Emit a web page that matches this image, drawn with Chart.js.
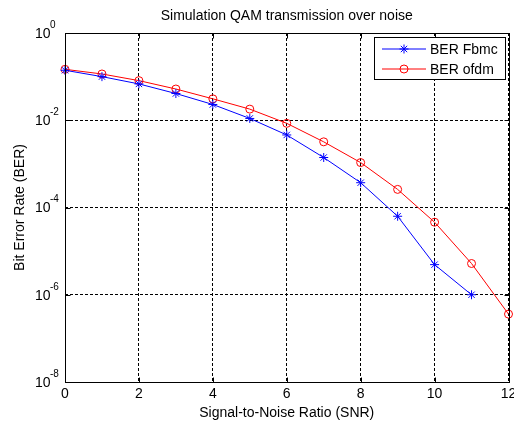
<!DOCTYPE html>
<html>
<head>
<meta charset="utf-8">
<script src="https://cdn.jsdelivr.net/npm/chart.js@4.4.0/dist/chart.umd.min.js"></script>
<style>
html, body { margin: 0; padding: 0; background: #fff; }
canvas { display: block; }
</style>
</head>
<body>
<canvas id="ber-chart" width="514" height="421"></canvas>
<script>
// values
const snrFbmc = [0, 1, 2, 3, 4, 5, 6, 7, 8, 9, 10, 11];
const berFbmc = [0.14, 0.10, 0.068, 0.041, 0.023, 0.011, 0.0046, 0.0014, 3.7e-4, 6.3e-5, 4.9e-6, 1.0e-6];
const snrOfdm = [0, 1, 2, 3, 4, 5, 6, 7, 8, 9, 10, 11, 12];
const berOfdm = [0.147, 0.115, 0.081, 0.052, 0.031, 0.018, 0.0085, 0.0032, 0.00107, 2.6e-4, 4.6e-5, 5.2e-6, 3.6e-7];
const xTicks = [0, 2, 4, 6, 8, 10, 12];
const yTickExponents = [0, -2, -4, -6, -8];
const titleText = 'Simulation QAM transmission over noise';
const xTitle = 'Signal-to-Noise Ratio (SNR)';
const yTitle = 'Bit Error Rate (BER)';

const FONT = '"Liberation Sans", Arial, sans-serif';
Chart.defaults.font.family = FONT;

const toPoints = (xs, ys) => xs.map((x, i) => ({ x: x, y: ys[i] }));

// MATLAB-style decorations: box, tick marks, tick labels with exponents, titles, legend
const matlabFrame = {
    id: 'matlabFrame',
    afterDraw(chart) {
        const { ctx, chartArea: a, scales } = chart;
        const xs = scales.x, ys = scales.y;
        const L = Math.round(a.left) + 0.5, R = Math.round(a.right) + 0.5;
        const T = Math.round(a.top) + 0.5, B = Math.round(a.bottom) + 0.5;
        const tick = 5;
        ctx.save();

        ctx.strokeStyle = '#000';
        ctx.lineWidth = 1;
        ctx.setLineDash([]);
        ctx.strokeRect(L, T, R - L, B - T);

        // inward tick marks on all four sides
        ctx.beginPath();
        xTicks.forEach(v => {
            const x = Math.round(xs.getPixelForValue(v)) + 0.5;
            ctx.moveTo(x, B); ctx.lineTo(x, B - tick);
            ctx.moveTo(x, T); ctx.lineTo(x, T + tick);
        });
        yTickExponents.forEach(e => {
            const y = Math.round(ys.getPixelForValue(Math.pow(10, e))) + 0.5;
            ctx.moveTo(L, y); ctx.lineTo(L + tick, y);
            ctx.moveTo(R, y); ctx.lineTo(R - tick, y);
        });
        ctx.stroke();

        ctx.fillStyle = '#000';
        ctx.textAlign = 'left';
        ctx.textBaseline = 'middle';
        yTickExponents.forEach(e => {
            const y = ys.getPixelForValue(Math.pow(10, e));
            ctx.font = '14px ' + FONT;
            ctx.fillText('10', 35, y + 1);
            ctx.font = '10px ' + FONT;
            ctx.fillText(String(e), 50, y - 8);
        });

        ctx.font = '14px ' + FONT;
        ctx.textAlign = 'center';
        xTicks.forEach(v => {
            ctx.fillText(String(v), xs.getPixelForValue(v), a.bottom + 12);
        });

        ctx.fillText(xTitle, (a.left + a.right) / 2, a.bottom + 31);
        ctx.fillText(titleText, (a.left + a.right) / 2, 16);

        ctx.save();
        ctx.translate(20, (a.top + a.bottom) / 2);
        ctx.rotate(-Math.PI / 2);
        ctx.fillText(yTitle, 0, 0);
        ctx.restore();

        // legend box
        const lx = 374, ly = 37, lw = 131, lh = 42;
        ctx.fillStyle = '#fff';
        ctx.fillRect(lx, ly, lw, lh);
        ctx.strokeStyle = '#000';
        ctx.strokeRect(lx + 0.5, ly + 0.5, lw, lh);
        ctx.textAlign = 'left';
        chart.data.datasets.forEach((ds, i) => {
            const ry = ly + 12 + i * 20;
            ctx.strokeStyle = ds.borderColor;
            ctx.lineWidth = 1;
            ctx.beginPath();
            ctx.moveTo(lx + 8, ry);
            ctx.lineTo(lx + 52, ry);
            ctx.stroke();
            ctx.fillStyle = 'rgba(0,0,0,0)';
            Chart.helpers.drawPoint(ctx, {
                pointStyle: ds.pointStyle, radius: ds.pointRadius, rotation: 0, borderWidth: 1
            }, lx + 30, ry);
            ctx.fillStyle = '#000';
            ctx.fillText(ds.label, lx + 56, ry + 1);
        });

        ctx.restore();
    }
};

new Chart(document.getElementById('ber-chart'), {
    type: 'line',
    data: {
        datasets: [
            {
                label: 'BER Fbmc',
                data: toPoints(snrFbmc, berFbmc),
                borderColor: '#0000ff',
                backgroundColor: 'rgba(0,0,0,0)',
                borderWidth: 1,
                pointStyle: 'star',
                pointRadius: 4.5,
                pointBorderWidth: 1,
                pointBorderColor: '#0000ff',
                tension: 0,
                clip: 8
            },
            {
                label: 'BER ofdm',
                data: toPoints(snrOfdm, berOfdm),
                borderColor: '#ff0000',
                backgroundColor: 'rgba(0,0,0,0)',
                borderWidth: 1,
                pointStyle: 'circle',
                pointRadius: 4,
                pointBorderWidth: 1,
                pointBorderColor: '#ff0000',
                pointBackgroundColor: 'rgba(0,0,0,0)',
                tension: 0,
                clip: 8
            }
        ]
    },
    options: {
        responsive: false,
        animation: false,
        devicePixelRatio: 1,
        layout: { padding: { left: 65, right: 3, top: 33, bottom: 39 } },
        plugins: { legend: { display: false }, tooltip: { enabled: false } },
        scales: {
            x: {
                type: 'linear',
                min: 0,
                max: 12,
                afterBuildTicks: s => { s.ticks = xTicks.map(v => ({ value: v })); },
                ticks: { display: false },
                grid: { color: '#000', lineWidth: 1, drawTicks: false },
                border: { display: false, dash: [3, 2] }
            },
            y: {
                type: 'logarithmic',
                min: 1e-8,
                max: 1,
                afterBuildTicks: s => { s.ticks = yTickExponents.map(e => ({ value: Math.pow(10, e) })); },
                ticks: { display: false },
                grid: { color: '#000', lineWidth: 1, drawTicks: false },
                border: { display: false, dash: [3, 2] }
            }
        }
    },
    plugins: [matlabFrame]
});
</script>
</body>
</html>
